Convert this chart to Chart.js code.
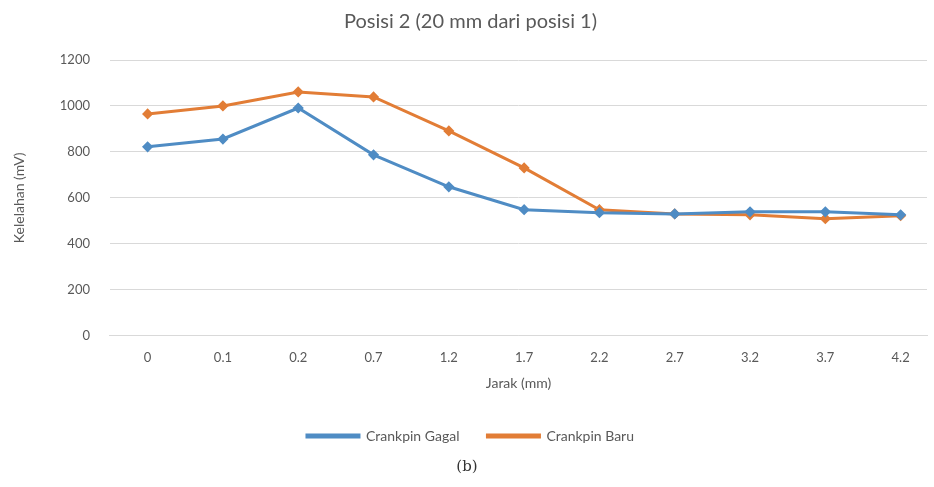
<!DOCTYPE html>
<html>
<head>
<meta charset="utf-8">
<script src="https://cdn.jsdelivr.net/npm/chart.js@4"></script>
<style>
  body { margin: 0; background: #fff; }
  #wrap { position: relative; width: 934px; height: 487px; }
  #caption { position: absolute; left: 0; width: 934px; top: 457px; text-align: center;
             font-family: "DejaVu Serif", serif; font-size: 15px; color: #333; }
</style>
</head>
<body>
<div id="wrap">
  <canvas id="chart" width="934" height="487"></canvas>
  <div id="caption">(b)</div>
</div>
<script>
var labels = ['0', '0.1', '0.2', '0.7', '1.2', '1.7', '2.2', '2.7', '3.2', '3.7', '4.2'];
var gagal = [822, 856, 991, 787, 648, 548, 535, 530, 539, 539, 526];
var baru = [965, 1000, 1061, 1039, 891, 730, 548, 530, 526, 509, 522];

function toPoints(values) {
    return values.map(function (v, i) { return { x: i, y: v }; });
}

var ctx = document.getElementById('chart').getContext('2d');
var chart = new Chart(ctx, {
    type: 'line',
    data: {
        datasets: [{
            label: 'Crankpin Gagal',
            data: toPoints(gagal),
            borderColor: '#4f8cc4',
            backgroundColor: '#4f8cc4',
            borderWidth: 3,
            pointRadius: 3.5,
            pointStyle: 'rectRot'
        }, {
            label: 'Crankpin Baru',
            data: toPoints(baru),
            borderColor: '#e27d36',
            backgroundColor: '#e27d36',
            borderWidth: 3,
            pointRadius: 3.5,
            pointStyle: 'rectRot'
        }]
    },
    options: {
        responsive: false,
        animation: false,
        layout: { padding: { left: 7, right: 0, top: 4, bottom: 34 } },
        plugins: {
            title: {
                display: true,
                text: 'Posisi 2 (20 mm dari posisi 1)',
                color: '#595959',
                font: { family: 'Lato', size: 20, weight: 'normal' },
                padding: { top: 6, bottom: 26 }
            },
            legend: {
                position: 'bottom',
                labels: {
                    color: '#595959',
                    font: { family: 'Lato', size: 14 },
                    boxWidth: 52,
                    boxHeight: 2,
                    padding: 28
                }
            },
            tooltip: { enabled: false }
        },
        scales: {
            x: {
                type: 'linear',
                min: -0.5,
                max: 10.35,
                afterBuildTicks: function (axis) {
                    axis.ticks = labels.map(function (l, i) { return { value: i }; });
                },
                ticks: {
                    color: '#595959',
                    font: { family: 'Lato', size: 13 },
                    padding: 6,
                    callback: function (value) { return labels[value]; }
                },
                grid: { display: false },
                border: { color: '#d9d9d9' },
                title: {
                    display: true,
                    text: 'Jarak (mm)',
                    color: '#595959',
                    font: { family: 'Lato', size: 14 },
                    padding: { top: 4, bottom: 9 }
                }
            },
            y: {
                min: 0,
                max: 1200,
                ticks: {
                    stepSize: 200,
                    color: '#595959',
                    font: { family: 'Lato', size: 13 },
                    padding: 20,
                    callback: function (value) { return String(value); }
                },
                grid: { color: '#d9d9d9', drawTicks: false },
                border: { display: false },
                title: {
                    display: true,
                    text: 'Kelelahan (mV)',
                    color: '#595959',
                    font: { family: 'Lato', size: 14 },
                    padding: { bottom: 12 }
                }
            }
        }
    }
});
</script>
</body>
</html>
